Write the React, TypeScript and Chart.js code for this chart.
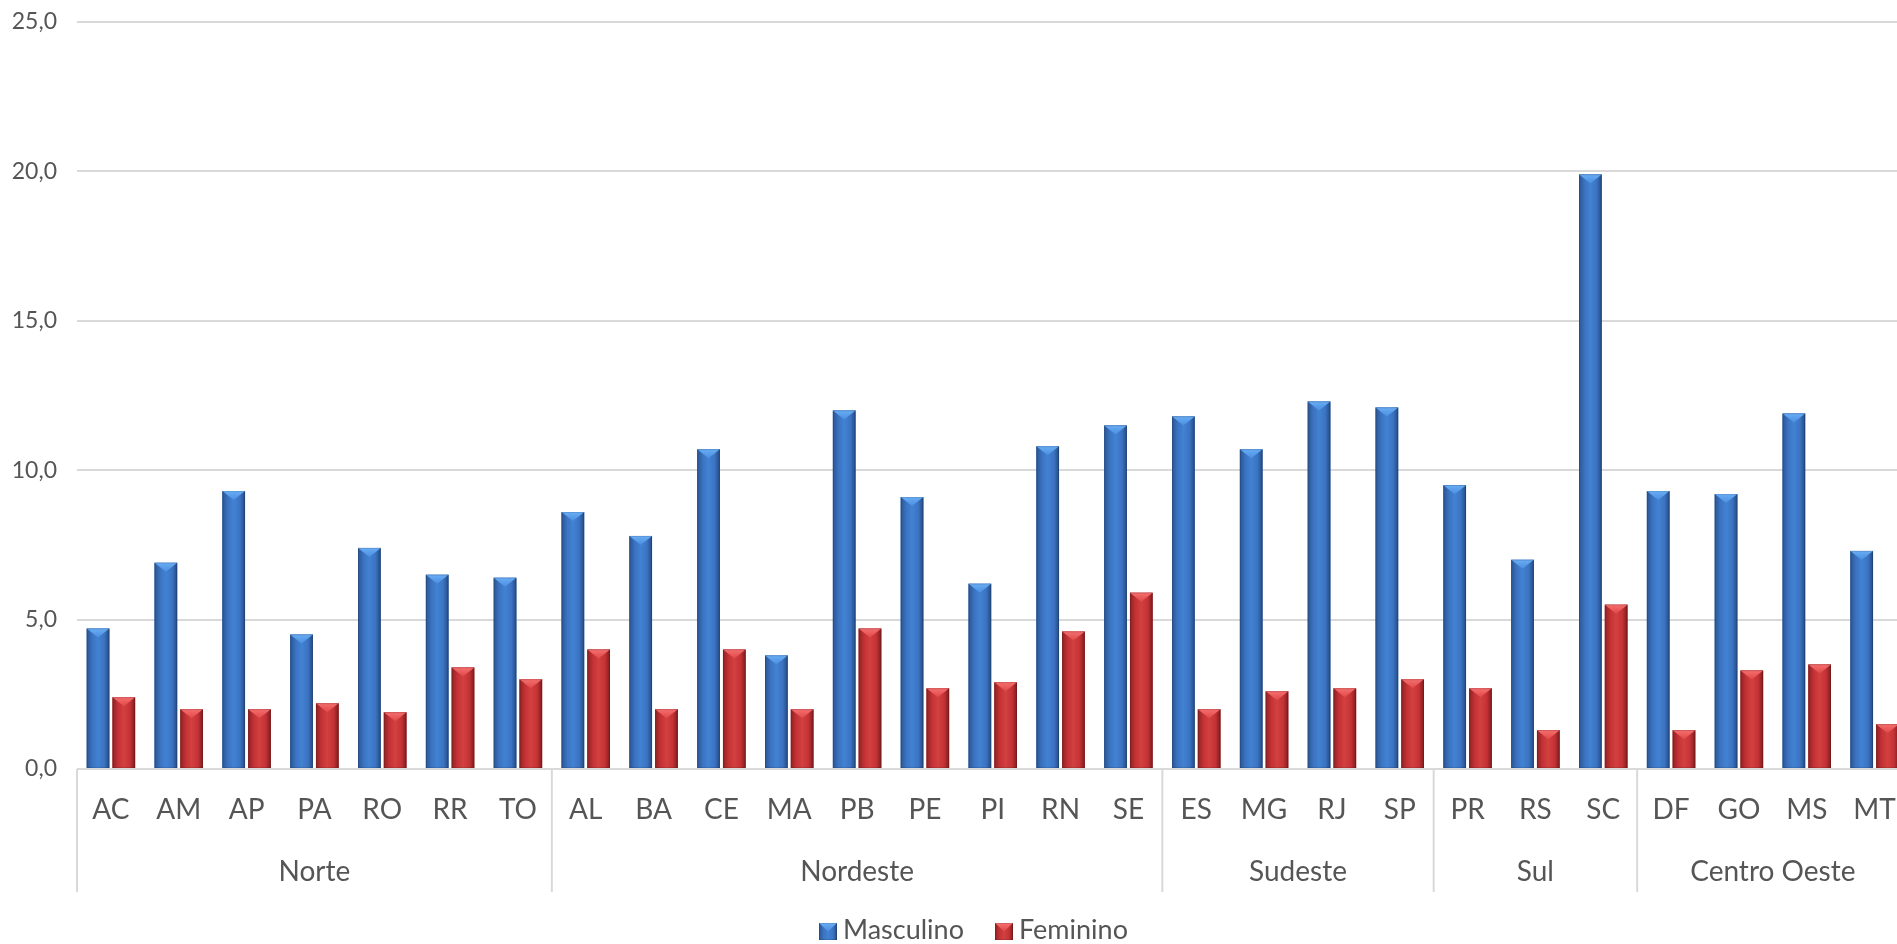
import React, { useEffect, useRef } from 'react';
import { Chart, registerables } from 'chart.js';

Chart.register(...registerables);

const states = ['AC', 'AM', 'AP', 'PA', 'RO', 'RR', 'TO', 'AL', 'BA', 'CE', 'MA', 'PB', 'PE', 'PI', 'RN', 'SE', 'ES', 'MG', 'RJ', 'SP', 'PR', 'RS', 'SC', 'DF', 'GO', 'MS', 'MT'];
const regions = ['Norte', 'Nordeste', 'Sudeste', 'Sul', 'Centro Oeste'];
const regionSizes = [7, 9, 4, 3, 4];
const masculino = [4.7, 6.9, 9.3, 4.5, 7.4, 6.5, 6.4, 8.6, 7.8, 10.7, 3.8, 12.0, 9.1, 6.2, 10.8, 11.5, 11.8, 10.7, 12.3, 12.1, 9.5, 7.0, 19.9, 9.3, 9.2, 11.9, 7.3];
const feminino = [2.4, 2.0, 2.0, 2.2, 1.9, 3.4, 3.0, 4.0, 2.0, 4.0, 2.0, 4.7, 2.7, 2.9, 4.6, 5.9, 2.0, 2.6, 2.7, 3.0, 2.7, 1.3, 5.5, 1.3, 3.3, 3.5, 1.5];
const seriesNames = ['Masculino', 'Feminino'];
const yMin = 0;
const yMax = 25;
const yStep = 5;

const FONT = 'Lato, "Open Sans", sans-serif';
const TEXT = '#555555';
const GRID = '#d9d9d9';

const palettes = [
  { edgeL: '#2a5592', mid: '#3b73c2', hi: '#4282d2', edgeR: '#244a82', top: '#6aaef5', topDark: '#4a8ee0', solid: '#3a6fbc' },
  { edgeL: '#8e2222', mid: '#c43236', hi: '#d2403f', edgeR: '#7e1c1c', top: '#f57070', topDark: '#e04848', solid: '#c0303a' },
];

function drawBevel(ctx: CanvasRenderingContext2D, left: number, top: number, w: number, h: number, pal: any) {
  if (h <= 0) return;
  const g = ctx.createLinearGradient(left, 0, left + w, 0);
  g.addColorStop(0, pal.edgeL);
  g.addColorStop(0.25, pal.mid);
  g.addColorStop(0.5, pal.hi);
  g.addColorStop(0.78, pal.mid);
  g.addColorStop(1, pal.edgeR);
  ctx.fillStyle = g;
  ctx.fillRect(left, top, w, h);
  const bh = Math.min(9, h / 2);
  const tg = ctx.createLinearGradient(0, top, 0, top + bh);
  tg.addColorStop(0, pal.top);
  tg.addColorStop(1, pal.topDark);
  ctx.fillStyle = tg;
  ctx.beginPath();
  ctx.moveTo(left, top);
  ctx.lineTo(left + w, top);
  ctx.lineTo(left + w / 2, top + bh);
  ctx.closePath();
  ctx.fill();
  ctx.strokeStyle = 'rgba(0,0,0,0.12)';
  ctx.lineWidth = 1;
  ctx.strokeRect(left + 0.5, top + 0.5, w - 1, h - 1);
}

const decorPlugin = {
  id: 'decor',
  afterDatasetsDraw(chart: any) {
    const ctx = chart.ctx as CanvasRenderingContext2D;
    ctx.save();
    chart.data.datasets.forEach((_ds: any, di: number) => {
      const meta = chart.getDatasetMeta(di);
      const pal = palettes[di];
      meta.data.forEach((el: any) => {
        const p = el.getProps(['x', 'y', 'base', 'width'], true);
        drawBevel(ctx, p.x - p.width / 2, p.y, p.width, p.base - p.y, pal);
      });
    });
    ctx.restore();
  },
  afterDraw(chart: any) {
    const ctx = chart.ctx as CanvasRenderingContext2D;
    const xs = chart.scales.x;
    const area = chart.chartArea;
    const cw = xs.getPixelForValue(1) - xs.getPixelForValue(0);
    ctx.save();
    ctx.strokeStyle = GRID;
    ctx.lineWidth = 2;
    let start = 0;
    ctx.font = `28px ${FONT}`;
    ctx.fillStyle = TEXT;
    ctx.textAlign = 'center';
    ctx.textBaseline = 'middle';
    regions.forEach((r, i) => {
      const x0 = xs.getPixelForValue(start) - cw / 2;
      const end = start + regionSizes[i];
      const x1 = xs.getPixelForValue(end - 1) + cw / 2;
      ctx.beginPath();
      ctx.moveTo(x0, area.bottom);
      ctx.lineTo(x0, 892);
      ctx.stroke();
      if (i === regions.length - 1) {
        ctx.beginPath();
        ctx.moveTo(x1, area.bottom);
        ctx.lineTo(x1, 892);
        ctx.stroke();
      }
      ctx.fillText(r, (x0 + x1) / 2, 872);
      start = end;
    });
    ctx.font = `27px ${FONT}`;
    ctx.textAlign = 'left';
    ctx.textBaseline = 'alphabetic';
    const legendX = [819, 995];
    seriesNames.forEach((n, i) => {
      drawBevel(ctx, legendX[i], 923, 18, 17, palettes[i]);
      ctx.fillStyle = TEXT;
      ctx.fillText(n, legendX[i] + 24, 939);
    });
    ctx.restore();
  },
};

export default function App() {
  const ref = useRef<HTMLCanvasElement>(null);
  useEffect(() => {
    if (!ref.current) return;
    const chart = new Chart(ref.current, {
      type: 'bar',
      data: {
        labels: states,
        datasets: [
          { label: seriesNames[0], data: masculino, backgroundColor: palettes[0].solid, borderWidth: 0 },
          { label: seriesNames[1], data: feminino, backgroundColor: palettes[1].solid, borderWidth: 0 },
        ],
      },
      options: {
        responsive: false,
        animation: false,
        devicePixelRatio: 1,
        layout: { padding: { top: 22, right: 8, left: 0, bottom: 0 } },
        datasets: { bar: { categoryPercentage: 0.76, barPercentage: 0.88 } },
        plugins: { legend: { display: false }, tooltip: { enabled: false } },
        scales: {
          x: {
            grid: { display: false, drawTicks: false },
            border: { display: false },
            ticks: { font: { family: FONT, size: 28 }, color: TEXT, padding: 24, maxRotation: 0, autoSkip: false },
            afterFit: (s: any) => { s.height = 175; },
          },
          y: {
            min: yMin,
            max: yMax,
            grid: { color: GRID, lineWidth: 2, drawTicks: true, tickLength: 20, tickColor: 'rgba(0,0,0,0)' },
            border: { display: false },
            ticks: {
              stepSize: yStep,
              font: { family: FONT, size: 23 },
              color: TEXT,
              padding: 0,
              callback: (v: any) => Number(v).toFixed(1).replace('.', ','),
            },
            afterFit: (s: any) => { s.width = 77; },
          },
        },
      },
      plugins: [decorPlugin],
    });
    return () => chart.destroy();
  }, []);
  return (
    <div style={{ position: 'fixed', left: 0, top: 0, width: '100vw', height: '100vh', overflow: 'hidden', background: '#fff' }}>
      <canvas ref={ref} width={1920} height={944} style={{ display: 'block', width: 1920, height: 944 }} />
    </div>
  );
}
